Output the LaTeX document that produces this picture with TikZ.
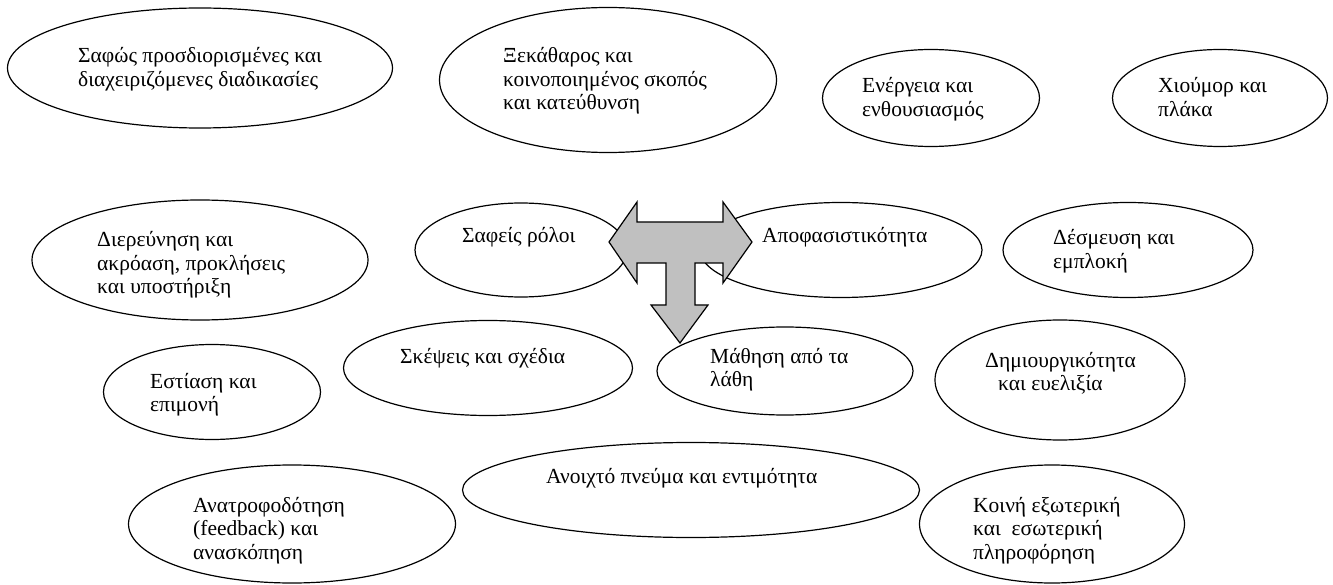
\documentclass[tikz,border=0pt]{standalone}
\usepackage{fontspec}
\setmainfont{Liberation Serif}
\usetikzlibrary{shapes.geometric}
\definecolor{arrowgray}{HTML}{C0C0C0}

\begin{document}
\begin{tikzpicture}[x=1pt,y=-1pt,
	bubble/.style={draw, ellipse, line width=1.2pt, inner sep=0pt},
	words/.style={anchor=base west, align=left, inner sep=0pt, font=\fontsize{21.5}{23.5}\selectfont},]
		\useasboundingbox (0,0) rectangle (1333,585);
		% top row (text nodes sit on the baseline of their last line)
		\node [bubble, minimum width=385pt, minimum height=120pt] (procedures) at (200,68) {};
		\node [words] (procedurestext) at (78,86.5) {Σαφώς προσδιορισμένες και\\διαχειριζόμενες διαδικασίες};
		\node [bubble, minimum width=337pt, minimum height=145pt] (purpose) at (608,80) {};
		\node [words] (purposetext) at (503,110) {Ξεκάθαρος και\\κοινοποιημένος σκοπός\\και κατεύθυνση};
		\node [bubble, minimum width=217pt, minimum height=97pt] (energy) at (931,98) {};
		\node [words] (energytext) at (862,116.5) {Ενέργεια και\\ενθουσιασμός};
		\node [bubble, minimum width=215pt, minimum height=97pt] (humour) at (1220,98) {};
		\node [words] (humourtext) at (1158,116.5) {Χιούμορ και\\πλάκα};
		% second row
		\node [bubble, minimum width=336pt, minimum height=120pt] (inquiry) at (200,260) {};
		\node [words] (inquirytext) at (97,294) {Διερεύνηση και\\ακρόαση, προκλήσεις\\και υποστήριξη};
		\node [bubble, minimum width=212pt, minimum height=94pt] (roles) at (521,250) {};
		\node [words] (rolestext) at (462,243) {Σαφείς ρόλοι};
		\node [bubble, minimum width=282pt, minimum height=95pt] (decision) at (841,250) {};
		\node [words] (decisiontext) at (762,243) {Αποφασιστικότητα};
		\node [bubble, minimum width=250pt, minimum height=95pt] (commitment) at (1128,250) {};
		\node [words] (commitmenttext) at (1053,268.5) {Δέσμευση και\\εμπλοκή};
		% third row
		\node [bubble, minimum width=217pt, minimum height=95pt] (focus) at (212,392) {};
		\node [words] (focustext) at (150,411.5) {Εστίαση και\\επιμονή};
		\node [bubble, minimum width=289pt, minimum height=95pt] (thoughts) at (488,368) {};
		\node [words] (thoughtstext) at (400,363) {Σκέψεις και σχέδια};
		\node [bubble, minimum width=256pt, minimum height=88pt] (mistakes) at (785,371) {};
		\node [words] (mistakestext) at (710,386.5) {Μάθηση από τα\\λάθη};
		\node [bubble, minimum width=250pt, minimum height=120pt] (creativity) at (1060,380) {};
		\node [words] (creativitytext) at (985,390.5) {Δημιουργικότητα\\\hspace*{13pt}και ευελιξία};
		% bottom row
		\node [bubble, minimum width=327pt, minimum height=118pt] (feedback) at (292,524) {};
		\node [words] (feedbacktext) at (193,559) {Ανατροφοδότηση\\(feedback) και\\ανασκόπηση};
		\node [bubble, minimum width=457pt, minimum height=95pt] (openness) at (691,490) {};
		\node [words] (opennesstext) at (546,483) {Ανοιχτό πνεύμα και εντιμότητα};
		\node [bubble, minimum width=265pt, minimum height=118pt] (information) at (1052,524) {};
		\node [words] (informationtext) at (973,559) {Κοινή εξωτερική\\και\ \ εσωτερική\\πληροφόρηση};
		% T arrow
		\draw [fill=arrowgray, line width=1.2pt, line join=miter] (609,242) -- (637,202) -- (637,222) -- (723,222) -- (723,202) -- (752,242) -- (723,283) -- (723,263) -- (695,263) -- (695,305) -- (708,305) -- (680,343) -- (651,305) -- (666,305) -- (666,263) -- (637,263) -- (637,283) -- cycle;
	\end{tikzpicture}
\end{document}
